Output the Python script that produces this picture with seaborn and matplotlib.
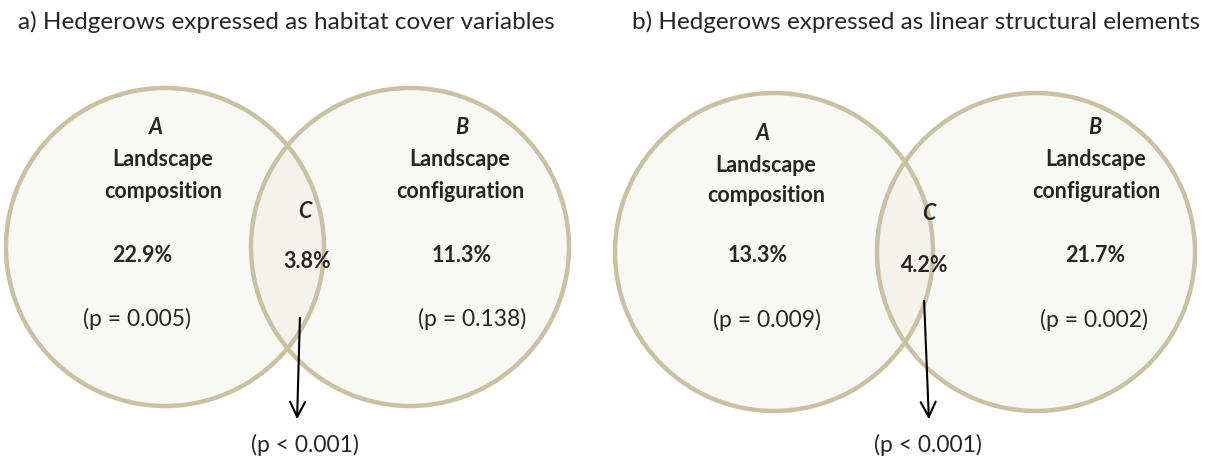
import matplotlib.pyplot as plt
import matplotlib.patches as mpatches
import seaborn as sns

panel_titles = ["a) Hedgerows expressed as habitat cover variables",
                "b) Hedgerows expressed as linear structural elements"]
pct_a = ["22.9%", "13.3%"]
pct_b = ["11.3%", "21.7%"]
pct_c = ["3.8%", "4.2%"]
p_a = ["(p = 0.005)", "(p = 0.009)"]
p_b = ["(p = 0.138)", "(p = 0.002)"]
p_c = ["(p < 0.001)", "(p < 0.001)"]

sns.set_theme(style="white")
plt.rcParams['font.family'] = ['Lato', 'DejaVu Sans']

edge = "#c9c1a1"
fill = "#f8f8f4"
fill_c = "#f4f2ed"

fig, ax = plt.subplots(figsize=(12.27, 4.63), dpi=100)
fig.subplots_adjust(0, 0, 1, 1)
ax.set_xlim(0, 1227)
ax.set_ylim(463, 0)
ax.set_aspect("equal")
ax.axis("off")

# circle centres per panel (left, right), radius
centres = [((165, 247), (410, 247)), ((774, 252), (1036, 252))]
r = 159
title_x = [18, 632]
# text anchor positions per panel
posA = [(163, 128, 163, 192, 142, 256, 137, 319), (770, 133, 766, 195, 758, 256, 767, 320)]
posB = [(462, 128, 460, 192, 462, 256, 472, 319), (1095, 128, 1096, 192, 1095, 256, 1094, 320)]
posC = [(305, 212, 307, 262, 305, 445), (929, 214, 925, 266, 928, 445)]
arrows = [((300, 315), (297, 422)), ((924, 298), (929, 422))]

bold = dict(fontsize=15.5, fontweight="bold", ha="center", va="center")
norm = dict(fontsize=16.5, ha="center", va="center")

for i in range(2):
    (lx, ly), (rx, ry) = centres[i]
    c1 = mpatches.Circle((lx, ly), r, facecolor=fill, edgecolor="none")
    c2 = mpatches.Circle((rx, ry), r, facecolor=fill, edgecolor="none")
    ax.add_patch(c1)
    ax.add_patch(c2)
    inter = mpatches.Circle((lx, ly), r, facecolor=fill_c, edgecolor="none")
    ax.add_patch(inter)
    inter.set_clip_path(mpatches.Circle((rx, ry), r, transform=ax.transData))
    for cx, cy in [(lx, ly), (rx, ry)]:
        ax.add_patch(mpatches.Circle((cx, cy), r, facecolor="none", edgecolor=edge, lw=3.2))

    ax.text(title_x[i], 22, panel_titles[i], fontsize=17.5, ha="left", va="center")

    x0, ya, xl, yc, xp, yp, xq, yq = posA[i]
    ax.text(x0 - 7, ya, "A", fontstyle="italic", **bold)
    ax.text(xl, ya + 32, "Landscape", **bold)
    ax.text(xl, yc, "composition", **bold)
    ax.text(xp, yp, pct_a[i], **bold)
    ax.text(xq, yq, p_a[i], **norm)

    x0, ya, xl, yc, xp, yp, xq, yq = posB[i]
    ax.text(x0, ya, "B", fontstyle="italic", **bold)
    ax.text(xl, ya + 32, "Landscape", **bold)
    ax.text(xl, yc, "configuration", **bold)
    ax.text(xp, yp, pct_b[i], **bold)
    ax.text(xq, yq, p_b[i], **norm)

    xc, yc_, xcp, ycp, xcq, ycq = posC[i]
    ax.text(xc, yc_, "C", fontstyle="italic", **bold)
    ax.text(xcp, ycp, pct_c[i], **bold)
    ax.text(xcq, ycq, p_c[i], **norm)

    (ax0, ay0), (ax1, ay1) = arrows[i]
    ax.annotate("", xy=(ax1, ay1), xytext=(ax0, ay0),
                arrowprops=dict(arrowstyle="->,head_length=0.9,head_width=0.45", color="black", lw=1.5))

fig.savefig("out.png", dpi=100)
